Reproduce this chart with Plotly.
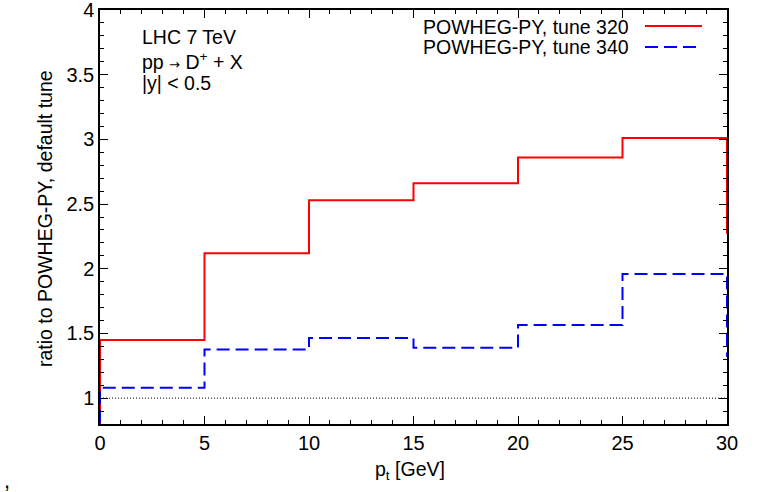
import plotly.graph_objects as go

# bin edges in p_t [GeV]; the edge bins outside 0-30 only set the end risers
pt_edges = [-5, 0, 5, 10, 15, 20, 25, 30]
ratio_tune320 = [0.0, 1.45, 2.12, 2.53, 2.66, 2.86, 3.01, 2.27]
ratio_tune340 = [0.0, 1.08, 1.375, 1.465, 1.39, 1.565, 1.96, 1.32]
series_names = ["POWHEG-PY, tune 320", "POWHEG-PY, tune 340"]
x_ticks = [0, 5, 10, 15, 20, 25, 30]
y_ticks = [1, 1.5, 2, 2.5, 3, 3.5, 4]

FONT = "Liberation Sans, Arial, Helvetica, sans-serif"
TXT = 19.5
W, H = 765, 492
L, R, T, B = 100, 38, 10, 68

fig = go.Figure()

# reference line at ratio 1
fig.add_trace(go.Scatter(x=[x_ticks[0], x_ticks[-1]], y=[1, 1], mode="lines",
                         line=dict(color="black", width=1, dash="1px,2px"),
                         showlegend=False, hoverinfo="skip"))

fig.add_trace(go.Scatter(x=pt_edges, y=ratio_tune320, mode="lines",
                         line=dict(color="#ff0000", width=2, shape="hv"),
                         name=series_names[0], showlegend=False))
fig.add_trace(go.Scatter(x=pt_edges, y=ratio_tune340, mode="lines",
                         line=dict(color="#0000ff", width=2, shape="hv", dash="13px,6px"),
                         name=series_names[1], showlegend=False))

pw = W - L - R
ph = H - T - B


def px(xp):
    return (xp - L) / pw


def py(yp):
    return (H - B - yp) / ph


annotations = []
shapes = []

# key, text on the left and line sample on the right
key_rows = [(27, 26, "#ff0000", "solid"), (47, 47, "#0000ff", "13px,6px")]
for (ytxt, yline, col, dash), name in zip(key_rows, series_names):
    annotations.append(dict(x=px(631), y=py(ytxt), xref="paper", yref="paper",
                            text=name, showarrow=False, xanchor="right", yanchor="middle",
                            font=dict(family=FONT, size=TXT, color="black")))
    shapes.append(dict(type="line", xref="paper", yref="paper",
                       x0=px(645), x1=px(702), y0=py(yline), y1=py(yline),
                       line=dict(color=col, width=2, dash=dash)))

# process labels
arrow = "<span style='font-family:DejaVu Sans;font-size:13px'>\u2192</span>"
labels = [(37.5, "LHC 7 TeV"),
          (61, "pp " + arrow + " D<sup>+</sup> + X"),
          (82.5, "|y| < 0.5")]
for yrow, txt in labels:
    annotations.append(dict(x=px(140), y=py(yrow), xref="paper", yref="paper",
                            text=txt, showarrow=False, xanchor="left", yanchor="middle",
                            font=dict(family=FONT, size=TXT, color="black")))

# axis titles
annotations.append(dict(x=px(410), y=py(470), xref="paper", yref="paper",
                        text="p<sub>t</sub> [GeV]", showarrow=False,
                        xanchor="center", yanchor="middle",
                        font=dict(family=FONT, size=TXT, color="black")))
annotations.append(dict(x=px(45), y=py(219), xref="paper", yref="paper",
                        text="ratio to POWHEG-PY, default tune", showarrow=False,
                        textangle=-90, xanchor="center", yanchor="middle",
                        font=dict(family=FONT, size=TXT, color="black")))
annotations.append(dict(x=px(7), y=py(480), xref="paper", yref="paper",
                        text=",", showarrow=False, xanchor="center", yanchor="middle",
                        font=dict(family=FONT, size=22, color="black")))

fig.update_xaxes(range=[0, 30], tickmode="array", tickvals=x_ticks,
                 ticks="inside", ticklen=8, tickwidth=1, tickcolor="black",
                 minor=dict(ticks="inside", dtick=1, ticklen=4, tickwidth=1, tickcolor="black"))
fig.update_yaxes(range=[0.8, 4], tickmode="array", tickvals=y_ticks,
                 ticks="inside", ticklen=8, tickwidth=1, tickcolor="black",
                 minor=dict(ticks="inside", tick0=0, dtick=0.1, ticklen=4, tickwidth=1,
                            tickcolor="black"))
fig.update_xaxes(showgrid=False, zeroline=False, showline=True, linecolor="black",
                 linewidth=1.5, mirror="allticks", automargin=False,
                 ticklabeloverflow="allow",
                 tickfont=dict(family=FONT, size=20, color="black"))
fig.update_yaxes(showgrid=False, zeroline=False, showline=True, linecolor="black",
                 linewidth=1.5, mirror="allticks", automargin=False,
                 ticklabeloverflow="allow",
                 tickfont=dict(family=FONT, size=20, color="black"))

fig.update_layout(
    width=W, height=H,
    margin=dict(l=L, r=R, t=T, b=B, pad=0, autoexpand=False),
    paper_bgcolor="white", plot_bgcolor="white",
    annotations=annotations,
    shapes=shapes,
    showlegend=False,
)

fig.write_html("out.html")
